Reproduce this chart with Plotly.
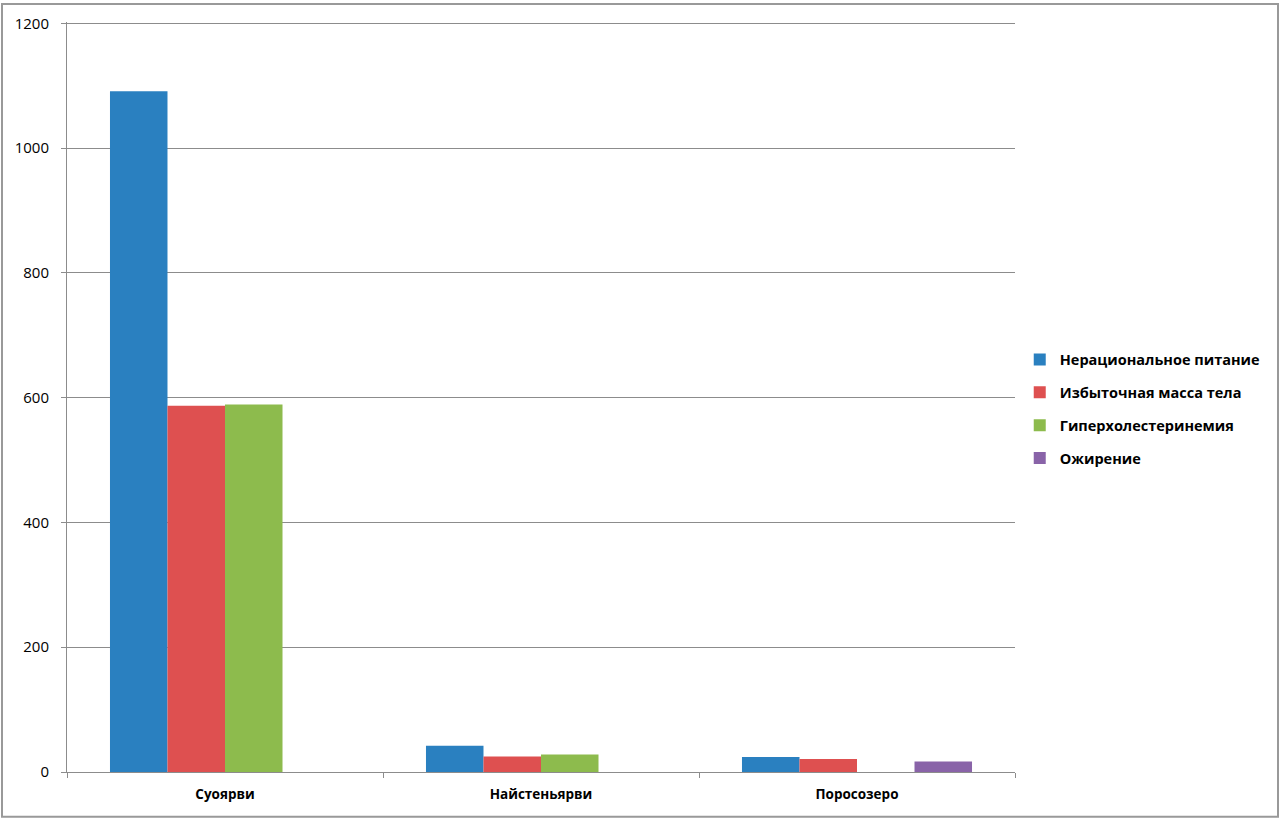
import plotly.graph_objects as go

categories = ["Суоярви", "Найстеньярви", "Поросозеро"]
series_names = ["Нерациональное питание", "Избыточная масса тела", "Гиперхолестеринемия", "Ожирение"]
nerac = [1091, 42, 24]
izb = [587, 25, 21]
giper = [589, 28, None]
ozhir = [None, None, 17]
colors = ["#2A80C0", "#DE5050", "#8DBB4D", "#8963A8"]
y_ticks = [0, 200, 400, 600, 800, 1000, 1200]

fig = go.Figure()
for i, (name, vals, c) in enumerate(zip(series_names, [nerac, izb, giper, ozhir], colors)):
    fig.add_trace(go.Bar(x=categories, y=vals, name=name, legendgroup=f"g{i}",
                         marker=dict(color=c, line=dict(width=0))))

W, H = 1280, 819
L, R, T, B = 67, 265, 19, 47
pw, ph = W - L - R, H - T - B

fig.update_layout(
    width=W, height=H, autosize=False,
    margin=dict(l=L, r=R, t=T, b=B),
    barmode="group", bargap=0.272, bargroupgap=0,
    plot_bgcolor="white", paper_bgcolor="white",
    font=dict(family="Open Sans, Liberation Sans, sans-serif", size=15, color="black"),
    legend=dict(x=1.005, y=0.484, xanchor="left", yanchor="middle",
                font=dict(size=14.5, weight="bold"), tracegroupgap=11, itemwidth=30,
                traceorder="grouped"),
    showlegend=True,
)
fig.update_yaxes(range=[0, 1202], tickvals=y_ticks, showgrid=True, gridcolor="#8c8c8c", gridwidth=1,
                 showline=True, linecolor="#8c8c8c", linewidth=1, ticks="outside", ticklen=5,
                 tickcolor="#8c8c8c", tickfont=dict(size=15), zeroline=False, ticklabelstandoff=9)
fig.update_xaxes(showline=True, linecolor="#8c8c8c", linewidth=1, ticks="outside", ticklen=5,
                 tickcolor="#8c8c8c", tickson="boundaries", tickfont=dict(size=13.5, weight="bold"),
                 ticklabelstandoff=10)

fig.add_shape(type="rect", xref="paper", yref="paper",
              x0=(2 - L) / pw, x1=(W - 2 - L) / pw,
              y0=-(B - 2) / ph, y1=(H - 1 - B) / ph,
              line=dict(color="#999999", width=2), layer="below")

fig.write_html("out.html", config={"displayModeBar": False},
               post_script="document.body.style.margin='0';document.body.style.overflow='hidden';")
